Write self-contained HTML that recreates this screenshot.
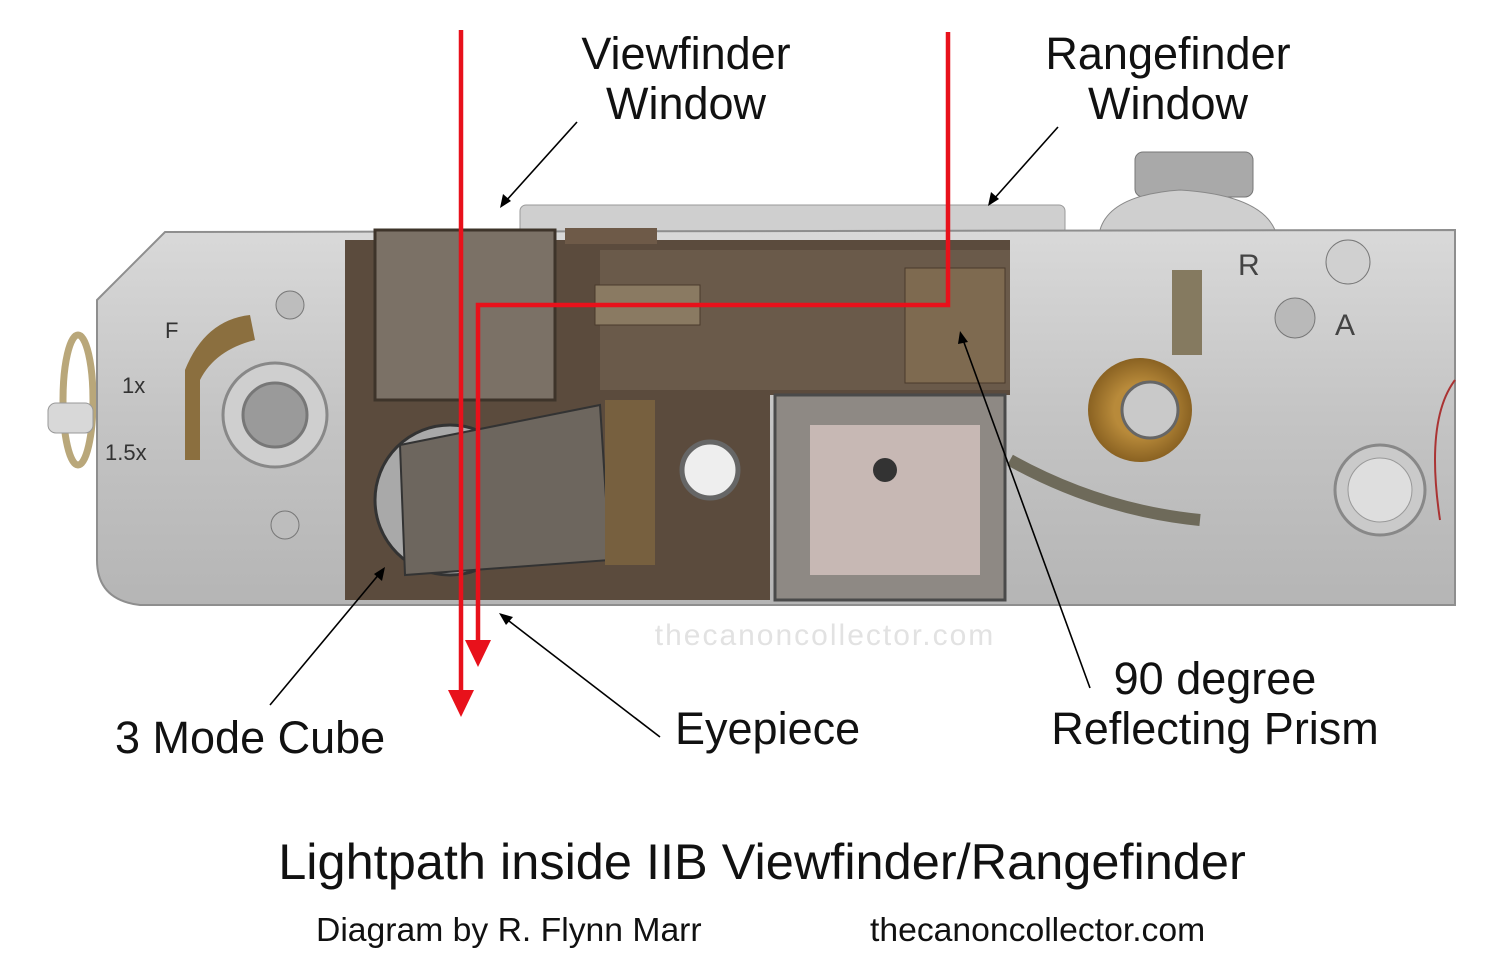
<!DOCTYPE html>
<html><head><meta charset="utf-8"><style>
html,body{margin:0;padding:0;background:#fff;width:1500px;height:970px;overflow:hidden}
text{font-family:"Liberation Sans",Arial,sans-serif}
</style></head><body>
<svg width="1500" height="970" viewBox="0 0 1500 970" xmlns="http://www.w3.org/2000/svg">
<defs>
<linearGradient id="silver" x1="0" y1="0" x2="0" y2="1">
<stop offset="0" stop-color="#d9d9d9"/><stop offset="0.5" stop-color="#c4c4c4"/><stop offset="1" stop-color="#b5b5b5"/>
</linearGradient>
<radialGradient id="brass"><stop offset="0.5" stop-color="#b88a3a"/><stop offset="1" stop-color="#8a6222"/></radialGradient>
</defs>
<rect x="520" y="205" width="545" height="30" rx="6" fill="#cfcfcf" stroke="#9a9a9a"/>
<rect x="1135" y="152" width="118" height="45" rx="8" fill="#a9a9a9" stroke="#777"/>
<path d="M1100 230 Q1110 195 1180 190 Q1260 195 1275 230 Z" fill="#cfcfcf" stroke="#888"/>
<ellipse cx="78" cy="400" rx="15" ry="65" fill="none" stroke="#b9a77a" stroke-width="7"/>
<rect x="48" y="403" width="45" height="30" rx="8" fill="#d8d8d8" stroke="#999"/>
<path d="M97 300 L165 232 L1455 230 L1455 605 L140 605 Q97 600 97 560 Z" fill="url(#silver)" stroke="#8e8e8e" stroke-width="2"/>
<path d="M1455 380 Q1425 420 1440 520" fill="none" stroke="#a33" stroke-width="2"/>
<path d="M345 240 L1010 240 L1010 395 L770 395 L770 600 L345 600 Z" fill="#5b4b3d"/>
<rect x="600" y="250" width="410" height="140" fill="#6a5a4a"/>
<rect x="595" y="285" width="105" height="40" fill="#8a7a62" stroke="#4a3a2c"/>
<rect x="905" y="268" width="100" height="115" fill="#7e6a50" stroke="#4a3a2c"/>
<rect x="375" y="230" width="180" height="170" fill="#7b7166" stroke="#3e342a" stroke-width="3"/>
<rect x="565" y="228" width="92" height="16" fill="#6e5a48"/>
<circle cx="450" cy="500" r="75" fill="#a9a9a9" stroke="#333" stroke-width="3"/>
<path d="M400 445 L600 405 L610 560 L405 575 Z" fill="#6d665e" stroke="#333" stroke-width="2"/>
<rect x="605" y="400" width="50" height="165" fill="#77603f"/>
<circle cx="710" cy="470" r="28" fill="#eee" stroke="#666" stroke-width="5"/>
<rect x="775" y="395" width="230" height="205" fill="#8e8984" stroke="#4a4a4a" stroke-width="3"/>
<rect x="810" y="425" width="170" height="150" fill="#c7b8b4"/>
<circle cx="885" cy="470" r="12" fill="#333"/>
<circle cx="275" cy="415" r="52" fill="#cfcfcf" stroke="#888" stroke-width="3"/>
<circle cx="275" cy="415" r="32" fill="#9a9a9a" stroke="#777" stroke-width="3"/>
<circle cx="290" cy="305" r="14" fill="#bdbdbd" stroke="#777"/>
<circle cx="285" cy="525" r="14" fill="#bdbdbd" stroke="#777"/>
<path d="M185 370 Q205 320 250 315 L255 340 Q215 350 200 380 L200 460 L185 460 Z" fill="#8b6f3f"/>
<circle cx="1140" cy="410" r="52" fill="url(#brass)"/>
<circle cx="1150" cy="410" r="28" fill="#c9c9c9" stroke="#666" stroke-width="3"/>
<circle cx="1380" cy="490" r="45" fill="#cacaca" stroke="#888" stroke-width="3"/>
<circle cx="1380" cy="490" r="32" fill="#dedede" stroke="#999"/>
<circle cx="1295" cy="318" r="20" fill="#b9b9b9" stroke="#777"/>
<circle cx="1348" cy="262" r="22" fill="#d0d0d0" stroke="#777"/>
<path d="M1010 460 Q1100 510 1200 520" fill="none" stroke="#6e6a5a" stroke-width="12"/>
<rect x="1172" y="270" width="30" height="85" fill="#857a60"/>
<text x="165" y="338" font-size="22" fill="#333">F</text>
<text x="122" y="393" font-size="22" fill="#333">1x</text>
<text x="105" y="460" font-size="22" fill="#333">1.5x</text>
<text x="1238" y="275" font-size="30" fill="#444">R</text>
<text x="1335" y="335" font-size="30" fill="#444">A</text>
<text x="825" y="645" font-size="30" fill="#e2e2e2" text-anchor="middle" letter-spacing="2">thecanoncollector.com</text>
<g stroke="#000" stroke-width="1.6" fill="none">
<line x1="577" y1="122" x2="505" y2="202"/>
<line x1="1058" y1="127" x2="993" y2="200"/>
<line x1="270" y1="705" x2="380" y2="573"/>
<line x1="660" y1="737" x2="505" y2="618"/>
<line x1="1090" y1="688" x2="962" y2="337"/>
</g>
<g fill="#000">
<path d="M500 208 L503 194 L511 201 Z"/>
<path d="M988 206 L991 192 L999 199 Z"/>
<path d="M385 567 L382 581 L374 574 Z"/>
<path d="M499 613 L513 617 L506 625 Z"/>
<path d="M960 331 L968 342 L958 344 Z"/>
</g>
<g stroke="#e8111b" stroke-width="4.5" fill="none">
<line x1="461" y1="30" x2="461" y2="692"/>
<polyline points="948,32 948,305 478,305 478,642"/>
</g>
<path d="M448 690 L474 690 L461 717 Z" fill="#e8111b"/>
<path d="M465 640 L491 640 L478 667 Z" fill="#e8111b"/>
<g font-size="45" fill="#111" text-anchor="middle">
<text x="686" y="69">Viewfinder</text>
<text x="686" y="119">Window</text>
<text x="1168" y="69">Rangefinder</text>
<text x="1168" y="119">Window</text>
<text x="1215" y="694">90 degree</text>
<text x="1215" y="744">Reflecting Prism</text>
</g>
<text x="115" y="753" font-size="45" fill="#111">3 Mode Cube</text>
<text x="675" y="744" font-size="45" fill="#111">Eyepiece</text>
<text x="762" y="879" font-size="50.5" fill="#111" text-anchor="middle">Lightpath inside IIB Viewfinder/Rangefinder</text>
<text x="316" y="941" font-size="33.7" fill="#111">Diagram by R. Flynn Marr</text>
<text x="870" y="941" font-size="33.7" fill="#111">thecanoncollector.com</text>
</svg>
</body></html>
